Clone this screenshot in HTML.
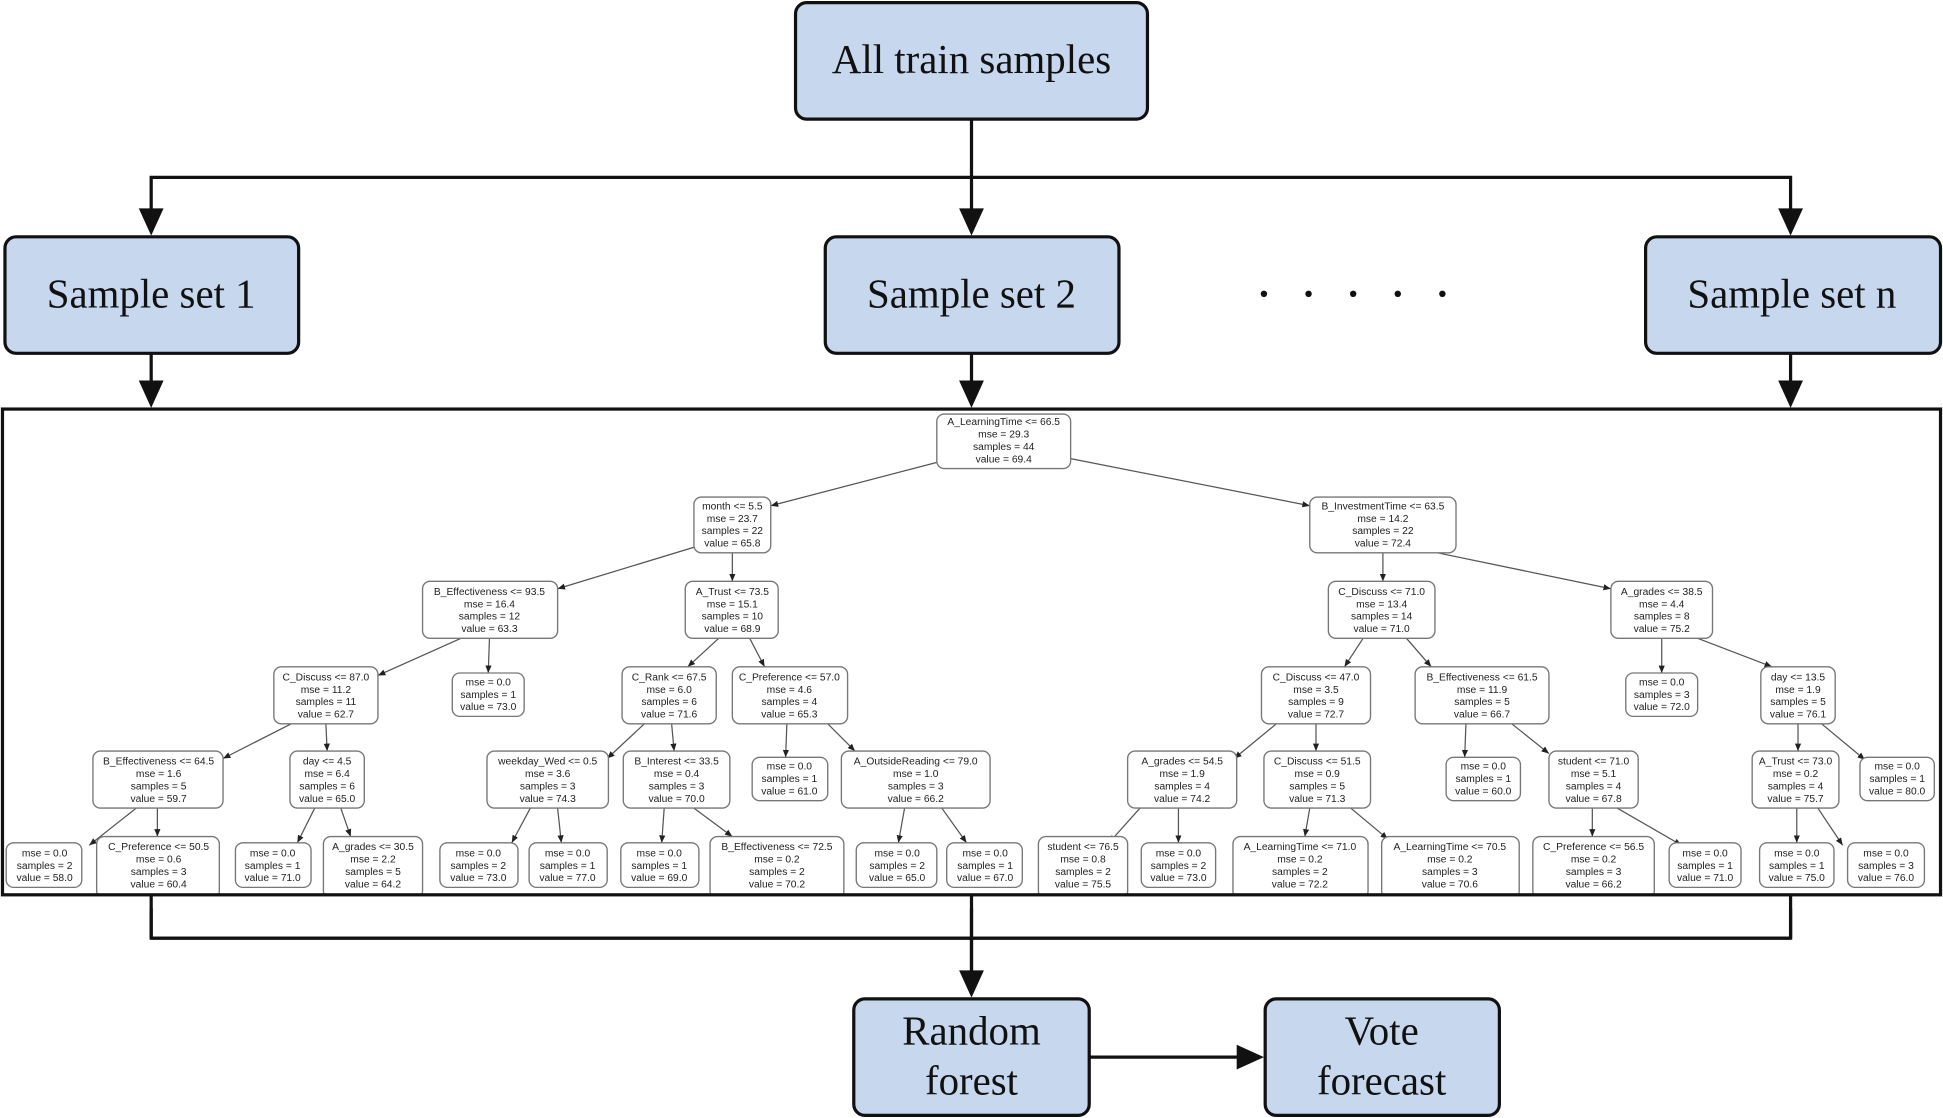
<!DOCTYPE html>
<html><head><meta charset="utf-8"><style>
html,body{margin:0;padding:0;background:#fff;}
svg{display:block;}
.b{fill:#c6d7ee;stroke:#111;stroke-width:2.6;}
.bt{font-family:"Liberation Serif",serif;font-size:33px;fill:#111;text-anchor:middle;}
.n{fill:#fff;stroke:#777;stroke-width:1.1;}
.t{font-family:"Liberation Sans",sans-serif;font-size:8.3px;fill:#222;text-anchor:middle;}
.e{stroke:#555;stroke-width:1;marker-end:url(#s);}
.k{stroke:#111;stroke-width:2.6;fill:none;}
</style></head><body>
<svg width="1943" height="1118" viewBox="0 0 1568 902" xmlns="http://www.w3.org/2000/svg">
<defs>
<marker id="s" markerWidth="6" markerHeight="6" refX="6" refY="3" orient="auto" markerUnits="userSpaceOnUse"><path d="M0,0.5 L6,3 L0,5.5 z" fill="#222"/></marker>
</defs>

<rect class="b" x="642" y="2" width="284" height="94" rx="9"/>
<text class="bt" x="784" y="59">All train samples</text>
<line class="k" x1="784" y1="96" x2="784" y2="172"/>
<polyline class="k" points="122,172 122,143 1445,143 1445,172"/>
<path d="M112,168 L132,168 L122,190 z M774,168 L794,168 L784,190 z M1435,168 L1455,168 L1445,190 z" fill="#111"/>

<rect class="b" x="4" y="191" width="237" height="94" rx="9"/>
<text class="bt" x="122" y="248">Sample set 1</text>
<rect class="b" x="666" y="191" width="237" height="94" rx="9"/>
<text class="bt" x="784" y="248">Sample set 2</text>
<rect class="b" x="1328" y="191" width="238" height="94" rx="9"/>
<text class="bt" x="1446" y="248">Sample set n</text>
<g fill="#111"><circle cx="1020" cy="237" r="2.6"/><circle cx="1056" cy="237" r="2.6"/><circle cx="1092" cy="237" r="2.6"/><circle cx="1128" cy="237" r="2.6"/><circle cx="1164" cy="237" r="2.6"/></g>

<line class="k" x1="122" y1="285" x2="122" y2="310"/>
<line class="k" x1="784" y1="285" x2="784" y2="310"/>
<line class="k" x1="1445" y1="285" x2="1445" y2="310"/>
<path d="M112,307 L132,307 L122,329 z M774,307 L794,307 L784,329 z M1435,307 L1455,307 L1445,329 z" fill="#111"/>

<polyline class="k" points="122,722 122,757 1445,757 1445,722"/>
<line class="k" x1="784" y1="722" x2="784" y2="785"/>
<path d="M774,783 L794,783 L784,805 z" fill="#111"/>
<rect class="b" x="689" y="806" width="190" height="94" rx="9"/>
<text class="bt" x="784" y="843">Random</text>
<text class="bt" x="784" y="883">forest</text>
<line class="k" x1="879" y1="853" x2="1000" y2="853"/>
<path d="M998,843 L998,863 L1020,853 z" fill="#111"/>
<rect class="b" x="1021" y="806" width="189" height="94" rx="9"/>
<text class="bt" x="1115" y="843">Vote</text>
<text class="bt" x="1115" y="883">forecast</text>

<g>
<line class="e" x1="760" y1="372" x2="622" y2="408"/>
<line class="e" x1="864" y1="370" x2="1057" y2="408"/>
<line class="e" x1="565" y1="440" x2="450" y2="475"/>
<line class="e" x1="591" y1="446" x2="591" y2="469"/>
<line class="e" x1="1116" y1="446" x2="1116" y2="469"/>
<line class="e" x1="1160" y1="446" x2="1300" y2="475"/>
<line class="e" x1="372" y1="515" x2="305" y2="545"/>
<line class="e" x1="395" y1="515" x2="394" y2="543"/>
<line class="e" x1="580" y1="515" x2="555" y2="538"/>
<line class="e" x1="605" y1="515" x2="617" y2="538"/>
<line class="e" x1="1100" y1="515" x2="1085" y2="538"/>
<line class="e" x1="1135" y1="515" x2="1155" y2="538"/>
<line class="e" x1="1341" y1="515" x2="1341" y2="543"/>
<line class="e" x1="1370" y1="515" x2="1430" y2="538"/>
<line class="e" x1="235" y1="584" x2="180" y2="612"/>
<line class="e" x1="263" y1="584" x2="264" y2="606"/>
<line class="e" x1="520" y1="584" x2="490" y2="612"/>
<line class="e" x1="542" y1="584" x2="544" y2="606"/>
<line class="e" x1="635" y1="584" x2="634" y2="611"/>
<line class="e" x1="668" y1="584" x2="690" y2="606"/>
<line class="e" x1="1030" y1="584" x2="996" y2="612"/>
<line class="e" x1="1062" y1="584" x2="1062" y2="606"/>
<line class="e" x1="1183" y1="584" x2="1182" y2="611"/>
<line class="e" x1="1220" y1="584" x2="1250" y2="608"/>
<line class="e" x1="1451" y1="584" x2="1451" y2="606"/>
<line class="e" x1="1470" y1="584" x2="1505" y2="613"/>
<line class="e" x1="110" y1="652" x2="72" y2="682"/>
<line class="e" x1="127" y1="652" x2="127" y2="675"/>
<line class="e" x1="254" y1="652" x2="240" y2="680"/>
<line class="e" x1="275" y1="652" x2="283" y2="675"/>
<line class="e" x1="428" y1="652" x2="413" y2="680"/>
<line class="e" x1="450" y1="652" x2="453" y2="680"/>
<line class="e" x1="536" y1="652" x2="534" y2="680"/>
<line class="e" x1="560" y1="652" x2="591" y2="675"/>
<line class="e" x1="730" y1="652" x2="725" y2="680"/>
<line class="e" x1="760" y1="652" x2="780" y2="680"/>
<line class="e" x1="920" y1="652" x2="895" y2="680"/>
<line class="e" x1="951" y1="652" x2="951" y2="680"/>
<line class="e" x1="1057" y1="652" x2="1053" y2="675"/>
<line class="e" x1="1090" y1="652" x2="1120" y2="677"/>
<line class="e" x1="1285" y1="652" x2="1285" y2="675"/>
<line class="e" x1="1305" y1="652" x2="1357" y2="682"/>
<line class="e" x1="1450" y1="652" x2="1450" y2="680"/>
<line class="e" x1="1467" y1="652" x2="1487" y2="682"/>
</g>

<g>
<rect class="n" x="756" y="334" width="108" height="44" rx="6"/>
<text class="t" x="810" y="343">A_LearningTime &lt;= 66.5</text><text class="t" x="810" y="353">mse = 29.3</text><text class="t" x="810" y="363">samples = 44</text><text class="t" x="810" y="373">value = 69.4</text>

<rect class="n" x="560" y="401" width="62" height="45" rx="6"/>
<text class="t" x="591" y="411">month &lt;= 5.5</text><text class="t" x="591" y="421">mse = 23.7</text><text class="t" x="591" y="431">samples = 22</text><text class="t" x="591" y="441">value = 65.8</text>
<rect class="n" x="1057" y="401" width="118" height="45" rx="6"/>
<text class="t" x="1116" y="411">B_InvestmentTime &lt;= 63.5</text><text class="t" x="1116" y="421">mse = 14.2</text><text class="t" x="1116" y="431">samples = 22</text><text class="t" x="1116" y="441">value = 72.4</text>

<rect class="n" x="341" y="469" width="109" height="46" rx="6"/>
<text class="t" x="395" y="480">B_Effectiveness &lt;= 93.5</text><text class="t" x="395" y="490">mse = 16.4</text><text class="t" x="395" y="500">samples = 12</text><text class="t" x="395" y="510">value = 63.3</text>
<rect class="n" x="553" y="469" width="75" height="46" rx="6"/>
<text class="t" x="591" y="480">A_Trust &lt;= 73.5</text><text class="t" x="591" y="490">mse = 15.1</text><text class="t" x="591" y="500">samples = 10</text><text class="t" x="591" y="510">value = 68.9</text>
<rect class="n" x="1072" y="469" width="86" height="46" rx="6"/>
<text class="t" x="1115" y="480">C_Discuss &lt;= 71.0</text><text class="t" x="1115" y="490">mse = 13.4</text><text class="t" x="1115" y="500">samples = 14</text><text class="t" x="1115" y="510">value = 71.0</text>
<rect class="n" x="1300" y="469" width="82" height="46" rx="6"/>
<text class="t" x="1341" y="480">A_grades &lt;= 38.5</text><text class="t" x="1341" y="490">mse = 4.4</text><text class="t" x="1341" y="500">samples = 8</text><text class="t" x="1341" y="510">value = 75.2</text>

<rect class="n" x="221" y="538" width="84" height="46" rx="6"/>
<text class="t" x="263" y="549">C_Discuss &lt;= 87.0</text><text class="t" x="263" y="559">mse = 11.2</text><text class="t" x="263" y="569">samples = 11</text><text class="t" x="263" y="579">value = 62.7</text>
<rect class="n" x="365" y="543" width="58" height="35" rx="6"/>
<text class="t" x="394" y="553">mse = 0.0</text><text class="t" x="394" y="563">samples = 1</text><text class="t" x="394" y="573">value = 73.0</text>
<rect class="n" x="502" y="538" width="76" height="46" rx="6"/>
<text class="t" x="540" y="549">C_Rank &lt;= 67.5</text><text class="t" x="540" y="559">mse = 6.0</text><text class="t" x="540" y="569">samples = 6</text><text class="t" x="540" y="579">value = 71.6</text>
<rect class="n" x="591" y="538" width="93" height="46" rx="6"/>
<text class="t" x="637" y="549">C_Preference &lt;= 57.0</text><text class="t" x="637" y="559">mse = 4.6</text><text class="t" x="637" y="569">samples = 4</text><text class="t" x="637" y="579">value = 65.3</text>
<rect class="n" x="1018" y="538" width="88" height="46" rx="6"/>
<text class="t" x="1062" y="549">C_Discuss &lt;= 47.0</text><text class="t" x="1062" y="559">mse = 3.5</text><text class="t" x="1062" y="569">samples = 9</text><text class="t" x="1062" y="579">value = 72.7</text>
<rect class="n" x="1142" y="538" width="108" height="46" rx="6"/>
<text class="t" x="1196" y="549">B_Effectiveness &lt;= 61.5</text><text class="t" x="1196" y="559">mse = 11.9</text><text class="t" x="1196" y="569">samples = 5</text><text class="t" x="1196" y="579">value = 66.7</text>
<rect class="n" x="1312" y="543" width="58" height="35" rx="6"/>
<text class="t" x="1341" y="553">mse = 0.0</text><text class="t" x="1341" y="563">samples = 3</text><text class="t" x="1341" y="573">value = 72.0</text>
<rect class="n" x="1421" y="538" width="60" height="46" rx="6"/>
<text class="t" x="1451" y="549">day &lt;= 13.5</text><text class="t" x="1451" y="559">mse = 1.9</text><text class="t" x="1451" y="569">samples = 5</text><text class="t" x="1451" y="579">value = 76.1</text>

<rect class="n" x="75" y="606" width="105" height="46" rx="6"/>
<text class="t" x="128" y="617">B_Effectiveness &lt;= 64.5</text><text class="t" x="128" y="627">mse = 1.6</text><text class="t" x="128" y="637">samples = 5</text><text class="t" x="128" y="647">value = 59.7</text>
<rect class="n" x="234" y="606" width="60" height="46" rx="6"/>
<text class="t" x="264" y="617">day &lt;= 4.5</text><text class="t" x="264" y="627">mse = 6.4</text><text class="t" x="264" y="637">samples = 6</text><text class="t" x="264" y="647">value = 65.0</text>
<rect class="n" x="393" y="606" width="98" height="46" rx="6"/>
<text class="t" x="442" y="617">weekday_Wed &lt;= 0.5</text><text class="t" x="442" y="627">mse = 3.6</text><text class="t" x="442" y="637">samples = 3</text><text class="t" x="442" y="647">value = 74.3</text>
<rect class="n" x="503" y="606" width="86" height="46" rx="6"/>
<text class="t" x="546" y="617">B_Interest &lt;= 33.5</text><text class="t" x="546" y="627">mse = 0.4</text><text class="t" x="546" y="637">samples = 3</text><text class="t" x="546" y="647">value = 70.0</text>
<rect class="n" x="607" y="611" width="61" height="35" rx="6"/>
<text class="t" x="637" y="621">mse = 0.0</text><text class="t" x="637" y="631">samples = 1</text><text class="t" x="637" y="641">value = 61.0</text>
<rect class="n" x="679" y="606" width="120" height="46" rx="6"/>
<text class="t" x="739" y="617">A_OutsideReading &lt;= 79.0</text><text class="t" x="739" y="627">mse = 1.0</text><text class="t" x="739" y="637">samples = 3</text><text class="t" x="739" y="647">value = 66.2</text>
<rect class="n" x="910" y="606" width="88" height="46" rx="6"/>
<text class="t" x="954" y="617">A_grades &lt;= 54.5</text><text class="t" x="954" y="627">mse = 1.9</text><text class="t" x="954" y="637">samples = 4</text><text class="t" x="954" y="647">value = 74.2</text>
<rect class="n" x="1020" y="606" width="86" height="46" rx="6"/>
<text class="t" x="1063" y="617">C_Discuss &lt;= 51.5</text><text class="t" x="1063" y="627">mse = 0.9</text><text class="t" x="1063" y="637">samples = 5</text><text class="t" x="1063" y="647">value = 71.3</text>
<rect class="n" x="1167" y="611" width="60" height="35" rx="6"/>
<text class="t" x="1197" y="621">mse = 0.0</text><text class="t" x="1197" y="631">samples = 1</text><text class="t" x="1197" y="641">value = 60.0</text>
<rect class="n" x="1250" y="606" width="72" height="46" rx="6"/>
<text class="t" x="1286" y="617">student &lt;= 71.0</text><text class="t" x="1286" y="627">mse = 5.1</text><text class="t" x="1286" y="637">samples = 4</text><text class="t" x="1286" y="647">value = 67.8</text>
<rect class="n" x="1414" y="606" width="70" height="46" rx="6"/>
<text class="t" x="1449" y="617">A_Trust &lt;= 73.0</text><text class="t" x="1449" y="627">mse = 0.2</text><text class="t" x="1449" y="637">samples = 4</text><text class="t" x="1449" y="647">value = 75.7</text>
<rect class="n" x="1501" y="611" width="60" height="35" rx="6"/>
<text class="t" x="1531" y="621">mse = 0.0</text><text class="t" x="1531" y="631">samples = 1</text><text class="t" x="1531" y="641">value = 80.0</text>

<rect class="n" x="5" y="680" width="61" height="36" rx="6"/>
<text class="t" x="36" y="691">mse = 0.0</text><text class="t" x="36" y="701">samples = 2</text><text class="t" x="36" y="711">value = 58.0</text>
<rect class="n" x="78" y="675" width="99" height="50" rx="6"/>
<text class="t" x="128" y="686">C_Preference &lt;= 50.5</text><text class="t" x="128" y="696">mse = 0.6</text><text class="t" x="128" y="706">samples = 3</text><text class="t" x="128" y="716">value = 60.4</text>
<rect class="n" x="190" y="680" width="61" height="36" rx="6"/>
<text class="t" x="220" y="691">mse = 0.0</text><text class="t" x="220" y="701">samples = 1</text><text class="t" x="220" y="711">value = 71.0</text>
<rect class="n" x="261" y="675" width="80" height="50" rx="6"/>
<text class="t" x="301" y="686">A_grades &lt;= 30.5</text><text class="t" x="301" y="696">mse = 2.2</text><text class="t" x="301" y="706">samples = 5</text><text class="t" x="301" y="716">value = 64.2</text>
<rect class="n" x="355" y="680" width="63" height="36" rx="6"/>
<text class="t" x="386" y="691">mse = 0.0</text><text class="t" x="386" y="701">samples = 2</text><text class="t" x="386" y="711">value = 73.0</text>
<rect class="n" x="427" y="680" width="63" height="36" rx="6"/>
<text class="t" x="458" y="691">mse = 0.0</text><text class="t" x="458" y="701">samples = 1</text><text class="t" x="458" y="711">value = 77.0</text>
<rect class="n" x="501" y="680" width="63" height="36" rx="6"/>
<text class="t" x="532" y="691">mse = 0.0</text><text class="t" x="532" y="701">samples = 1</text><text class="t" x="532" y="711">value = 69.0</text>
<rect class="n" x="573" y="675" width="108" height="50" rx="6"/>
<text class="t" x="627" y="686">B_Effectiveness &lt;= 72.5</text><text class="t" x="627" y="696">mse = 0.2</text><text class="t" x="627" y="706">samples = 2</text><text class="t" x="627" y="716">value = 70.2</text>
<rect class="n" x="691" y="680" width="65" height="36" rx="6"/>
<text class="t" x="724" y="691">mse = 0.0</text><text class="t" x="724" y="701">samples = 2</text><text class="t" x="724" y="711">value = 65.0</text>
<rect class="n" x="764" y="680" width="61" height="36" rx="6"/>
<text class="t" x="795" y="691">mse = 0.0</text><text class="t" x="795" y="701">samples = 1</text><text class="t" x="795" y="711">value = 67.0</text>
<rect class="n" x="838" y="675" width="72" height="50" rx="6"/>
<text class="t" x="874" y="686">student &lt;= 76.5</text><text class="t" x="874" y="696">mse = 0.8</text><text class="t" x="874" y="706">samples = 2</text><text class="t" x="874" y="716">value = 75.5</text>
<rect class="n" x="921" y="680" width="60" height="36" rx="6"/>
<text class="t" x="951" y="691">mse = 0.0</text><text class="t" x="951" y="701">samples = 2</text><text class="t" x="951" y="711">value = 73.0</text>
<rect class="n" x="995" y="675" width="109" height="50" rx="6"/>
<text class="t" x="1049" y="686">A_LearningTime &lt;= 71.0</text><text class="t" x="1049" y="696">mse = 0.2</text><text class="t" x="1049" y="706">samples = 2</text><text class="t" x="1049" y="716">value = 72.2</text>
<rect class="n" x="1115" y="675" width="111" height="50" rx="6"/>
<text class="t" x="1170" y="686">A_LearningTime &lt;= 70.5</text><text class="t" x="1170" y="696">mse = 0.2</text><text class="t" x="1170" y="706">samples = 3</text><text class="t" x="1170" y="716">value = 70.6</text>
<rect class="n" x="1237" y="675" width="98" height="50" rx="6"/>
<text class="t" x="1286" y="686">C_Preference &lt;= 56.5</text><text class="t" x="1286" y="696">mse = 0.2</text><text class="t" x="1286" y="706">samples = 3</text><text class="t" x="1286" y="716">value = 66.2</text>
<rect class="n" x="1347" y="680" width="58" height="36" rx="6"/>
<text class="t" x="1376" y="691">mse = 0.0</text><text class="t" x="1376" y="701">samples = 1</text><text class="t" x="1376" y="711">value = 71.0</text>
<rect class="n" x="1420" y="680" width="60" height="36" rx="6"/>
<text class="t" x="1450" y="691">mse = 0.0</text><text class="t" x="1450" y="701">samples = 1</text><text class="t" x="1450" y="711">value = 75.0</text>
<rect class="n" x="1491" y="680" width="62" height="36" rx="6"/>
<text class="t" x="1522" y="691">mse = 0.0</text><text class="t" x="1522" y="701">samples = 3</text><text class="t" x="1522" y="711">value = 76.0</text>
</g>

<rect x="0" y="723" width="1568" height="10" fill="#fff"/>
<rect x="2" y="330" width="1564" height="392" fill="none" stroke="#111" stroke-width="2.6"/>
<line class="k" x1="122" y1="722" x2="122" y2="757"/>
<line class="k" x1="1445" y1="722" x2="1445" y2="757"/>
<line class="k" x1="784" y1="722" x2="784" y2="785"/>
<line class="k" x1="122" y1="757" x2="1445" y2="757"/>
</svg>
</body></html>
